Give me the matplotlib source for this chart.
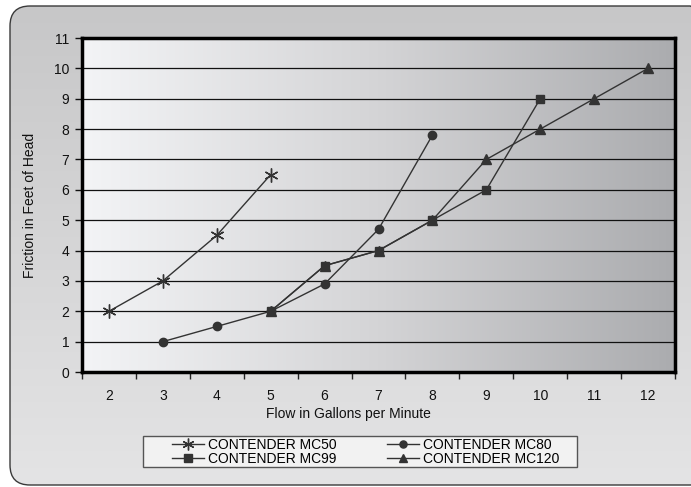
import numpy as np
import matplotlib
matplotlib.use("Agg")
import matplotlib.pyplot as plt
from matplotlib.colors import LinearSegmentedColormap
from matplotlib.patches import FancyBboxPatch, Rectangle
from matplotlib.ticker import MultipleLocator, FixedLocator

plt.rcParams['font.family'] = ['Liberation Sans', 'DejaVu Sans']

# === Data ===
flow_mc50 = [2, 3, 4, 5]
head_mc50 = [2, 3, 4.5, 6.5]

flow_mc80 = [3, 4, 5, 6, 7, 8]
head_mc80 = [1, 1.5, 2, 2.9, 4.7, 7.8]

flow_mc99 = [5, 6, 7, 8, 9, 10]
head_mc99 = [2, 3.5, 4, 5, 6, 9]

flow_mc120 = [5, 6, 7, 8, 9, 10, 11, 12]
head_mc120 = [2, 3.5, 4, 5, 7, 8, 9, 10]

x_ticks = list(range(2, 13))
y_ticks = list(range(0, 12))

W, H = 691, 487
FS = 10
fig = plt.figure(figsize=(W / 100, H / 100), dpi=100)
fig.patch.set_facecolor('white')

# === Outer rounded panel with vertical gradient (pixel coords) ===
bg = fig.add_axes([0, 0, 1, 1], zorder=0)
bg.set_xlim(0, W)
bg.set_ylim(0, H)
bg.axis('off')
panel = FancyBboxPatch((10, 2), 700, 479, boxstyle="round,pad=0,rounding_size=20",
                       facecolor='none', edgecolor='#3a3a3a', linewidth=1.0)
bg.add_patch(panel)
vgrad = np.linspace(0, 1, 256).reshape(-1, 1)
outer_cmap = LinearSegmentedColormap.from_list('outer', ['#e4e4e5', '#c7c7c8'])
im = bg.imshow(vgrad, extent=[10, 710, 2, 481], origin='lower', aspect='auto', cmap=outer_cmap)
im.set_clip_path(panel)

# legend box drawn by hand so the padding can differ per side
bg.add_patch(Rectangle((143, H - 467), 434, 31, facecolor='#f2f2f2',
                       edgecolor='#555555', linewidth=1.0, zorder=3))

# === Main plot area ===
left, right, top, bottom = 82, 675, 38, 372
ax = fig.add_axes([left / W, (H - bottom) / H, (right - left) / W, (bottom - top) / H], zorder=1)
ax.set_xlim(1.5, 12.5)
ax.set_ylim(0, 11)

hgrad = np.linspace(0, 1, 256).reshape(1, -1)
plot_cmap = LinearSegmentedColormap.from_list('plotbg', ['#f3f4f6', '#d4d4d6', '#abacaf'])
ax.imshow(hgrad, extent=[1.5, 12.5, 0, 11], aspect='auto', cmap=plot_cmap, zorder=0)

for yv in y_ticks[1:-1]:
    ax.axhline(yv, color='#111111', linewidth=0.9, zorder=1)

line_kw = dict(color='#333333', linewidth=1.0, markerfacecolor='#333333',
               markeredgecolor='#333333', zorder=3)
ax.plot(flow_mc50, head_mc50, marker=(6, 2, 0), markersize=10, markeredgewidth=1.0,
        label='CONTENDER MC50', **line_kw)
ax.plot(flow_mc80, head_mc80, marker='o', markersize=6, label='CONTENDER MC80', **line_kw)
ax.plot(flow_mc120, head_mc120, marker='^', markersize=6.5, label='CONTENDER MC120', **line_kw)
ax.plot(flow_mc99, head_mc99, marker='s', markersize=6, label='CONTENDER MC99', **line_kw)

for s in ax.spines.values():
    s.set_linewidth(2.5)
    s.set_color('black')

ax.xaxis.set_major_locator(FixedLocator(x_ticks))
ax.set_xticklabels([str(v) for v in x_ticks])
ax.xaxis.set_minor_locator(MultipleLocator(1, offset=0.5))
ax.tick_params(axis='x', which='major', length=0, pad=12, labelsize=FS, colors='#111111')
ax.tick_params(axis='x', which='minor', length=5, width=1, direction='out', color='#222222')
ax.set_yticks(y_ticks)
ax.tick_params(axis='y', length=5, width=1, direction='out', pad=4, labelsize=FS, colors='#111111')

ax.set_xlabel('Flow in Gallons per Minute', fontsize=FS, color='#111111')
ax.xaxis.set_label_coords((348 - left) / (right - left), -0.105)
ax.set_ylabel('Friction in Feet of Head', fontsize=FS, color='#111111')
ax.yaxis.set_label_coords((37 - left) / (right - left), 0.5)

handles, labels = ax.get_legend_handles_labels()
order = [0, 3, 1, 2]
leg = fig.legend([handles[i] for i in order], [labels[i] for i in order],
                 ncol=2, loc='upper left', bbox_to_anchor=(172 / W, (H - 438) / H),
                 fontsize=FS, frameon=False, handlelength=2.3, borderpad=0, markerscale=0.85,
                 borderaxespad=0, handletextpad=0.3, columnspacing=3.6, labelspacing=0.0)
leg.set_zorder(5)

fig.savefig('out.png', dpi=100)
